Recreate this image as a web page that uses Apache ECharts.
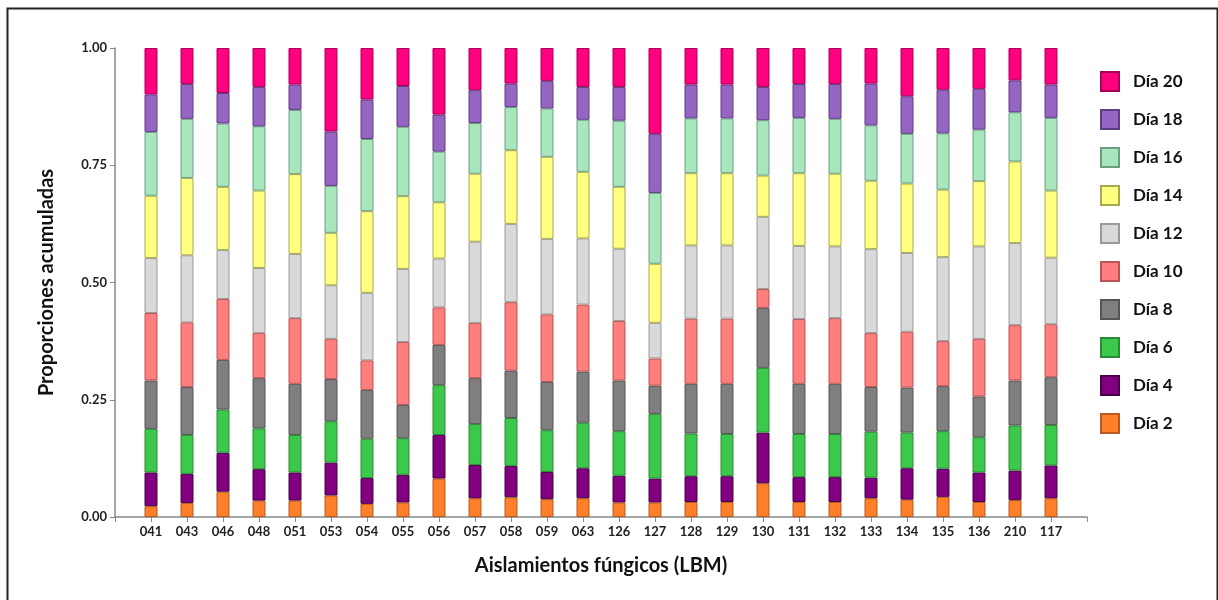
<!DOCTYPE html>
<html>
<head>
<meta charset="utf-8">
<script src="https://cdn.jsdelivr.net/npm/echarts@6/dist/echarts.min.js"></script>
<style>
html,body{margin:0;padding:0;background:#fff;}
#c{width:1218px;height:600px;}
</style>
</head>
<body>
<div id="c"></div>
<script>
const categories = ['041','043','046','048','051','053','054','055','056','057','058','059','063','126','127','128','129','130','131','132','133','134','135','136','210','117'];
const seriesNames = ['Día 2','Día 4','Día 6','Día 8','Día 10','Día 12','Día 14','Día 16','Día 18','Día 20'];
const yTicks = ['0.00','0.25','0.50','0.75','1.00'];

const dia2  = [.023,.030,.054,.035,.035,.046,.028,.031,.082,.040,.042,.038,.040,.031,.031,.032,.032,.072,.032,.032,.040,.037,.043,.032,.036,.040];
const dia4  = [.072,.062,.083,.067,.060,.070,.055,.059,.093,.071,.067,.058,.064,.057,.051,.055,.055,.108,.053,.053,.044,.067,.060,.063,.063,.070];
const dia6  = [.093,.083,.092,.087,.080,.088,.084,.078,.106,.087,.102,.089,.097,.095,.138,.091,.090,.138,.092,.092,.098,.076,.080,.075,.096,.086];
const dia8  = [.103,.102,.106,.107,.109,.090,.104,.071,.086,.098,.101,.103,.109,.108,.060,.106,.107,.128,.107,.107,.095,.096,.096,.087,.096,.102];
const dia10 = [.144,.138,.130,.096,.140,.086,.063,.134,.080,.118,.146,.144,.143,.127,.058,.139,.139,.040,.138,.140,.115,.119,.096,.123,.118,.113];
const dia12 = [.117,.143,.104,.139,.137,.114,.144,.156,.104,.173,.167,.161,.141,.154,.076,.156,.156,.154,.156,.153,.179,.168,.179,.197,.175,.142];
const dia14 = [.133,.165,.135,.165,.170,.112,.174,.155,.120,.145,.157,.175,.142,.132,.126,.154,.154,.088,.155,.155,.146,.148,.144,.139,.174,.143];
const dia16 = [.136,.126,.135,.137,.137,.100,.154,.148,.108,.108,.092,.103,.111,.141,.151,.117,.117,.118,.118,.117,.118,.106,.120,.110,.105,.155];
const dia18 = [.080,.074,.065,.084,.054,.116,.084,.087,.079,.070,.050,.059,.070,.072,.126,.072,.072,.071,.072,.074,.089,.080,.093,.087,.068,.071];
const dia20 = [.099,.077,.096,.083,.078,.178,.110,.081,.142,.090,.076,.070,.083,.083,.183,.078,.078,.083,.077,.077,.076,.103,.089,.087,.069,.078];

const seriesValues = [dia2, dia4, dia6, dia8, dia10, dia12, dia14, dia16, dia18, dia20];
const fills   = ['#FF7F2A','#800080','#3CC84B','#7F7F7F','#FF7F7F','#D9D9D9','#FFFF80','#A8E6BE','#9466C2','#FF007F'];
const borders = ['#B85A1E','#4A004A','#2A8A35','#555555','#B85555','#9A9A9A','#A8A850','#6E9E80','#5E3D85','#A8005A'];

const FONT = 'Lato';

const chart = echarts.init(document.getElementById('c'), null, {renderer:'canvas'});
chart.setOption({
  backgroundColor:'#fff',
  animation:false,
  graphic:[{
    type:'rect', left:5, top:6, shape:{width:1210, height:620},
    style:{fill:'none', stroke:'#222', lineWidth:2}, silent:true, z:-10
  }],
  grid:{left:115, right:131, top:48, bottom:83},
  legend:{
    data: seriesNames.slice().reverse(),
    orient:'vertical', left:1095, top:66,
    itemWidth:18, itemHeight:19, itemGap:17,
    icon:'rect',
    textStyle:{fontFamily:FONT, fontWeight:'bold', fontSize:17, color:'#111', padding:[0,0,0,9]}
  },
  xAxis:{
    type:'value', min:-1, max:26, interval:1,
    name:'Aislamientos fúngicos (LBM)', nameLocation:'middle', nameGap:39,
    nameTextStyle:{fontFamily:FONT, fontWeight:'bold', fontSize:20, color:'#111'},
    axisLine:{onZero:false, lineStyle:{color:'#888', width:1.5}},
    axisTick:{show:true, length:5, lineStyle:{color:'#888'}},
    splitLine:{show:false},
    axisLabel:{
      fontFamily:FONT, fontWeight:'bold', fontSize:13, color:'#222', margin:8,
      showMinLabel:true, showMaxLabel:true,
      formatter:function(v){ return (v>=0 && v<categories.length) ? categories[v] : ''; }
    }
  },
  yAxis:{
    type:'value', min:0, max:1, interval:0.25,
    name:'Proporciones acumuladas', nameLocation:'middle', nameGap:58,
    nameTextStyle:{fontFamily:FONT, fontWeight:'bold', fontSize:20, color:'#111'},
    axisLine:{show:true, onZero:false, lineStyle:{color:'#888', width:1.5}},
    axisTick:{show:true, length:5, lineStyle:{color:'#888'}},
    splitLine:{show:false},
    axisLabel:{
      fontFamily:FONT, fontWeight:'bold', fontSize:13, color:'#222', margin:8,
      formatter:function(v){ return yTicks[Math.round(v/0.25)]; }
    }
  },
  series: seriesNames.map(function(name, k){
    return {
      name:name, type:'bar', stack:'total', barWidth:13,
      encode:{x:1, y:0},
      itemStyle:{color:fills[k], borderColor:borders[k], borderWidth:1},
      data: seriesValues[k].map(function(v,i){ return [v, i]; })
    };
  })
});
</script>
</body>
</html>
